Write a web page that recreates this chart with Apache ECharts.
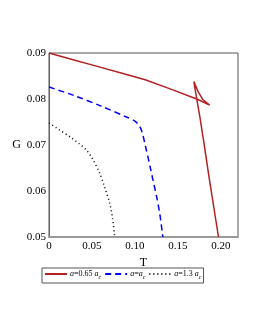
<!DOCTYPE html>
<html><head><meta charset="utf-8">
<script src="https://cdn.jsdelivr.net/npm/echarts@6/dist/echarts.min.js"></script>
<style>html,body{margin:0;padding:0;background:#fff}#c{width:258px;height:333px}</style>
</head><body><div id="c"></div>
<script>
// Series data: [T, G]
const redSeries = [[0,0.09],[0.028,0.08855],[0.055,0.08715],[0.085,0.0856],[0.112,0.0842],[0.141,0.0822],[0.172,0.0800],[0.187,0.0787],
  [0.179,0.0799],[0.1735,0.0816],[0.1686,0.0838],
  [0.172,0.0800],[0.1757,0.0760],[0.1804,0.0704],[0.1863,0.0630],[0.1973,0.05]];
const blueSeries = [[0,0.0826],[0.03,0.0807],[0.06,0.0785],[0.09,0.0761],[0.1,0.0752],[0.105,0.0742],
  [0.108,0.0730],[0.112,0.070],[0.118,0.065],[0.121,0.0624],[0.125,0.059],[0.129,0.055],[0.1325,0.05]];
const blackSeries = [[0,0.0748],[0.012,0.0733],[0.025,0.0717],[0.035,0.0703],[0.043,0.069],[0.05,0.0672],
  [0.059,0.0639],[0.065,0.0607],[0.0706,0.0574],[0.074,0.054],[0.0765,0.05]];
const seriesNames = ['r', 'b', 'k'];
const legendLabels = {r:'{i|a}{n|=0.65 }{i|a}{s|c}', b:'{i|a}{n|=}{i|a}{s|c}', k:'{i|a}{n|=1.3 }{i|a}{s|c}'};
const xTicks = {min:0, max:0.22, interval:0.05};
const yTicks = {min:0.05, max:0.09, interval:0.01};

const serif = '"Liberation Serif","DejaVu Serif",serif';
const chart = echarts.init(document.getElementById('c'), null, {renderer:'canvas'});
chart.setOption({
  animation:false,
  grid:{left:49, right:20, top:53, bottom:96, show:true, borderColor:'#555', borderWidth:1},
  xAxis:{type:'value', min:xTicks.min, max:xTicks.max, interval:xTicks.interval,
    name:'T', nameLocation:'middle', nameGap:17, nameTextStyle:{fontFamily:serif, fontSize:12, color:'#000'},
    axisLine:{lineStyle:{color:'#999', width:2}}, axisTick:{show:false}, splitLine:{show:false},
    axisLabel:{showMaxLabel:false, fontFamily:serif, fontSize:11, color:'#000', margin:4,
      formatter:v=>v===0?'0':v.toFixed(2)}},
  yAxis:{type:'value', min:yTicks.min, max:yTicks.max, interval:yTicks.interval,
    name:'G', nameLocation:'middle', nameGap:27, nameRotate:0, nameTextStyle:{fontFamily:serif, fontSize:12, color:'#000'},
    axisLine:{show:true, lineStyle:{color:'#666', width:1}}, axisTick:{show:false}, splitLine:{show:false},
    axisLabel:{fontFamily:serif, fontSize:11, color:'#000', margin:3, formatter:v=>v.toFixed(2)}},
  legend:{left:42, top:268, itemWidth:22, itemHeight:6, itemGap:3, padding:[2,2,3,2],
    borderColor:'#555', borderWidth:1,
    itemStyle:{opacity:0},
    data:seriesNames,
    formatter:n=>legendLabels[n],
    textStyle:{fontFamily:serif, fontSize:8, color:'#000', padding:[0,0,0,-2], rich:{
      i:{fontStyle:'italic', fontFamily:serif, fontSize:8},
      n:{fontFamily:serif, fontSize:8},
      s:{fontStyle:'italic', fontFamily:serif, fontSize:6, padding:[6,0,0,0]}}}},
  series:[
    {name:'r', type:'line', data:redSeries, symbol:'none', lineStyle:{color:'#b22222', width:1.5}, itemStyle:{color:'#b22222'}},
    {name:'b', type:'line', data:blueSeries, smooth:0.3, symbol:'none', lineStyle:{color:'#0000ff', width:1.5, type:[6,4]}, itemStyle:{color:'#0000ff'}},
    {name:'k', type:'line', data:blackSeries, smooth:0.3, symbol:'none', lineStyle:{color:'#000', width:1.5, type:[1,3]}, itemStyle:{color:'#000'}}
  ]
});
</script></body></html>
